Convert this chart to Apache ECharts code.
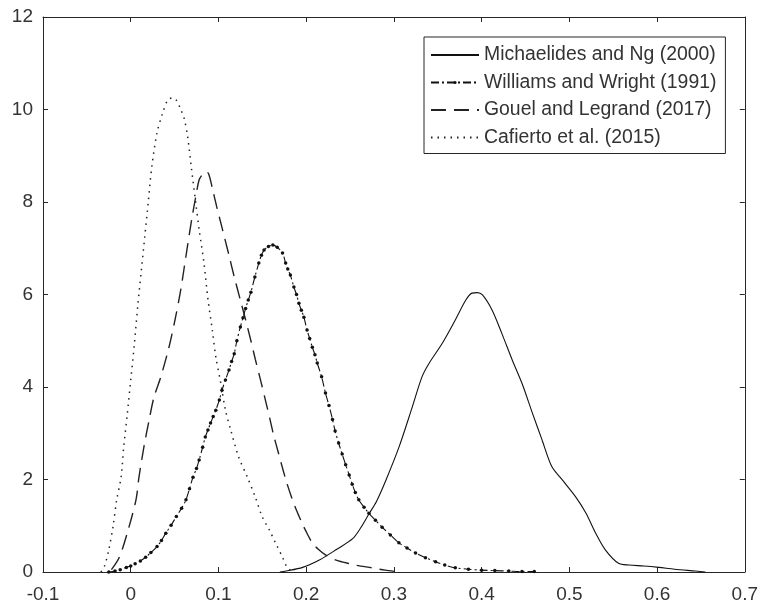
<!DOCTYPE html>
<html>
<head>
<meta charset="utf-8">
<script src="https://cdn.jsdelivr.net/npm/echarts@6/dist/echarts.min.js"></script>
<style>
html,body{margin:0;padding:0;background:#fff;}
#chart{width:761px;height:608px;}
</style>
</head>
<body>
<div id="chart"></div>
<script>
// ---- Data ----
var seriesNames = ['Michaelides and Ng (2000)', 'Williams and Wright (1991)', 'Gouel and Legrand (2017)', 'Cafierto et al. (2015)'];

var michaelidesX = [0.170, 0.177, 0.196, 0.215, 0.234, 0.253, 0.262, 0.272, 0.280, 0.291, 0.306, 0.321, 0.332, 0.340, 0.355, 0.370, 0.382, 0.389, 0.395, 0.401, 0.412, 0.423, 0.435, 0.446, 0.458, 0.469, 0.480, 0.492, 0.507, 0.519, 0.530, 0.541, 0.556, 0.568, 0.585, 0.602, 0.620, 0.644, 0.655];
var michaelidesY = [0.00, 0.02, 0.10, 0.26, 0.48, 0.72, 0.95, 1.27, 1.52, 1.99, 2.71, 3.57, 4.22, 4.51, 4.94, 5.45, 5.88, 6.03, 6.04, 5.99, 5.66, 5.16, 4.58, 4.08, 3.43, 2.85, 2.28, 1.99, 1.63, 1.27, 0.84, 0.48, 0.19, 0.15, 0.13, 0.10, 0.06, 0.02, 0.00];

var williamsX = [-0.025, -0.018, -0.012, -0.005, 0.000, 0.005, 0.011, 0.017, 0.023, 0.030, 0.035, 0.040, 0.046, 0.052, 0.058, 0.063, 0.067, 0.071, 0.075, 0.078, 0.082, 0.085, 0.088, 0.091, 0.094, 0.097, 0.101, 0.104, 0.108, 0.112, 0.115, 0.118, 0.121, 0.125, 0.128, 0.131, 0.134, 0.137, 0.1415, 0.146, 0.149, 0.152, 0.157, 0.162, 0.167, 0.173, 0.1766, 0.179, 0.182, 0.186, 0.189, 0.1917, 0.1945, 0.1974, 0.201, 0.204, 0.207, 0.210, 0.2126, 0.2176, 0.222, 0.226, 0.230, 0.233, 0.237, 0.241, 0.245, 0.249, 0.2525, 0.256, 0.260, 0.266, 0.2715, 0.279, 0.2866, 0.296, 0.3057, 0.315, 0.3247, 0.336, 0.3475, 0.358, 0.370, 0.385, 0.400, 0.415, 0.431, 0.446, 0.460];
var williamsY = [0.00, 0.02, 0.05, 0.10, 0.13, 0.18, 0.24, 0.32, 0.42, 0.55, 0.68, 0.84, 1.01, 1.20, 1.38, 1.56, 1.80, 2.05, 2.24, 2.42, 2.70, 2.92, 3.07, 3.22, 3.36, 3.50, 3.72, 3.93, 4.15, 4.37, 4.55, 4.72, 5.00, 5.30, 5.50, 5.70, 5.88, 6.05, 6.38, 6.68, 6.85, 6.96, 7.04, 7.07, 7.02, 6.90, 6.68, 6.55, 6.42, 6.16, 6.00, 5.81, 5.66, 5.51, 5.23, 5.05, 4.86, 4.70, 4.52, 4.22, 3.87, 3.60, 3.30, 3.05, 2.79, 2.55, 2.32, 2.10, 1.90, 1.72, 1.56, 1.40, 1.27, 1.12, 0.97, 0.80, 0.63, 0.52, 0.41, 0.31, 0.22, 0.15, 0.09, 0.06, 0.04, 0.03, 0.02, 0.01, 0.01];

var gouelX = [-0.022, -0.013, -0.004, 0.006, 0.0094, 0.015, 0.021, 0.0265, 0.034, 0.0436, 0.051, 0.057, 0.064, 0.070, 0.074, 0.078, 0.082, 0.086, 0.089, 0.093, 0.098, 0.104, 0.112, 0.118, 0.125, 0.131, 0.137, 0.142, 0.148, 0.154, 0.159, 0.163, 0.168, 0.173, 0.178, 0.184, 0.188, 0.1955, 0.199, 0.207, 0.2145, 0.222, 0.2335, 0.241, 0.256, 0.275, 0.290, 0.302];
var gouelY = [0.05, 0.32, 0.84, 1.56, 2.05, 2.70, 3.29, 3.78, 4.20, 4.86, 5.50, 6.10, 6.96, 7.68, 8.10, 8.48, 8.60, 8.66, 8.60, 8.30, 7.90, 7.45, 6.85, 6.38, 5.88, 5.45, 5.00, 4.60, 4.15, 3.68, 3.28, 2.95, 2.60, 2.25, 1.92, 1.58, 1.38, 1.05, 0.91, 0.63, 0.48, 0.37, 0.26, 0.22, 0.15, 0.09, 0.04, 0.01];

var cafiertoX = [-0.034, -0.030, -0.025, -0.020, -0.016, -0.011, -0.008, -0.004, 0.000, 0.004, 0.008, 0.012, 0.016, 0.020, 0.024, 0.030, 0.036, 0.042, 0.047, 0.052, 0.057, 0.061, 0.065, 0.069, 0.074, 0.078, 0.0835, 0.088, 0.093, 0.097, 0.1025, 0.108, 0.114, 0.123, 0.133, 0.142, 0.150, 0.158, 0.165, 0.173, 0.178, 0.183];
var cafiertoY = [0.00, 0.12, 0.48, 1.00, 1.56, 2.05, 2.70, 3.40, 4.15, 4.90, 5.75, 6.50, 7.25, 8.00, 8.76, 9.50, 9.90, 10.20, 10.25, 10.20, 10.00, 9.80, 9.40, 8.76, 8.00, 7.40, 6.68, 5.90, 5.23, 4.65, 4.10, 3.50, 3.07, 2.49, 2.05, 1.62, 1.19, 0.91, 0.63, 0.32, 0.11, 0.02];

var xTicks = [-0.1, 0, 0.1, 0.2, 0.3, 0.4, 0.5, 0.6, 0.7];
var yTicks = [0, 2, 4, 6, 8, 10, 12];

function pairs(xs, ys) { return xs.map(function (x, i) { return [x, ys[i]]; }); }

var ink = '#262626';
var font = '"Liberation Sans", Arial, sans-serif';

var chart = echarts.init(document.getElementById('chart'), null, { renderer: 'canvas' });

var baseX = {
  type: 'value', min: xTicks[0], max: xTicks[xTicks.length - 1], interval: 0.1,
  axisLine: { show: true, onZero: false, lineStyle: { color: ink, width: 1 } },
  axisTick: { show: true, inside: true, length: 5, lineStyle: { color: ink } },
  splitLine: { show: false }
};
var baseY = {
  type: 'value', min: yTicks[0], max: yTicks[yTicks.length - 1], interval: 2,
  axisLine: { show: true, onZero: false, lineStyle: { color: ink, width: 1 } },
  axisTick: { show: true, inside: true, length: 5, lineStyle: { color: ink } },
  splitLine: { show: false }
};

var hidden = { opacity: 0 };

var option = {
  backgroundColor: '#ffffff',
  animation: false,
  grid: { left: 43, right: 15, top: 17, bottom: 36, containLabel: false },
  xAxis: [
    Object.assign({}, baseX, {
      position: 'bottom',
      axisLabel: { show: true, margin: 13, color: '#333', fontSize: 19, fontFamily: font,
        formatter: function (v) { return String(Number(v.toFixed(1))); } }
    }),
    Object.assign({}, baseX, { position: 'top', axisLabel: { show: false } })
  ],
  yAxis: [
    Object.assign({}, baseY, {
      position: 'left',
      axisLabel: { show: true, margin: 10, color: '#333', fontSize: 19, fontFamily: font }
    }),
    Object.assign({}, baseY, { position: 'right', axisLabel: { show: false } })
  ],
  legend: {
    orient: 'vertical',
    left: 424, top: 37,
    padding: [8, 9, 6, 6],
    itemGap: 7.5,
    itemWidth: 48, itemHeight: 4,
    backgroundColor: '#ffffff',
    borderColor: ink, borderWidth: 1,
    textStyle: { color: '#333', fontSize: 19.4, fontFamily: font, lineHeight: 20 },
    data: [
      { name: seriesNames[0], itemStyle: hidden },
      { name: seriesNames[1] },
      { name: seriesNames[2], itemStyle: hidden },
      { name: seriesNames[3], itemStyle: hidden }
    ]
  },
  series: [
    {
      name: seriesNames[0], type: 'line', xAxisIndex: 0, yAxisIndex: 0,
      data: pairs(michaelidesX, michaelidesY),
      symbol: 'none', smooth: 0.3,
      lineStyle: { color: '#111', width: 1.1, type: 'solid' },
      itemStyle: { color: '#111' }
    },
    {
      name: seriesNames[1], type: 'line', xAxisIndex: 0, yAxisIndex: 0,
      data: pairs(williamsX, williamsY),
      symbol: 'circle', symbolSize: 3.5, showSymbol: true, smooth: 0.3,
      lineStyle: { color: '#111', width: 1.1, type: [8, 3, 2, 3] },
      itemStyle: { color: '#111' }
    },
    {
      name: seriesNames[2], type: 'line', xAxisIndex: 0, yAxisIndex: 0,
      data: pairs(gouelX, gouelY),
      symbol: 'none', smooth: 0.3,
      lineStyle: { color: '#222', width: 1.4, type: [15, 8] },
      itemStyle: { color: '#222' }
    },
    {
      name: seriesNames[3], type: 'line', xAxisIndex: 0, yAxisIndex: 0,
      data: pairs(cafiertoX, cafiertoY),
      symbol: 'none', smooth: 0.3,
      lineStyle: { color: '#222', width: 1.5, type: [1.5, 5] },
      itemStyle: { color: '#222' }
    }
  ]
};
chart.setOption(option);
</script>
</body>
</html>
